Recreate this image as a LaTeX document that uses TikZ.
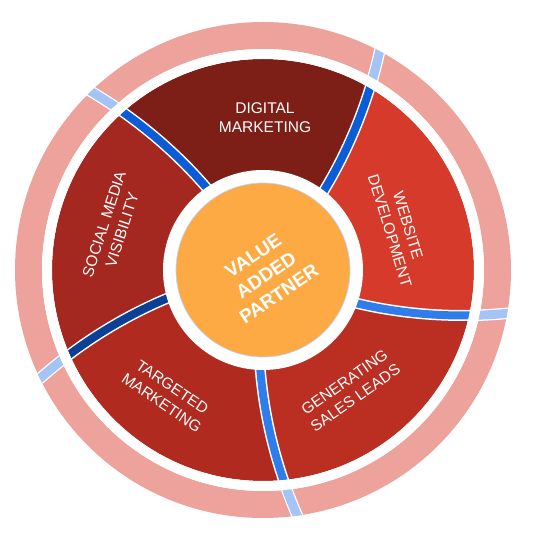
\documentclass[tikz,border=0pt]{standalone}
\usepackage{fontspec}
\setmainfont{Liberation Sans}
\definecolor{cDM}{HTML}{7E1F17}
\definecolor{cWD}{HTML}{D63A2B}
\definecolor{cGSL}{HTML}{BB2E22}
\definecolor{cTM}{HTML}{B02A20}
\definecolor{cSM}{HTML}{A4281F}
\definecolor{cPink}{HTML}{EDA39C}
\definecolor{cLB}{HTML}{A4C4F6}
\definecolor{cBlueA}{HTML}{0B5DD7}
\definecolor{cBlueB}{HTML}{0A4096}
\definecolor{cBlueC}{HTML}{2E7DEB}
\definecolor{cOrange}{HTML}{FDA944}
\definecolor{cRim}{HTML}{C2D5F5}
\begin{document}
\begin{tikzpicture}[x=1pt,y=1pt,
  lab/.style={text=white, font=\fontsize{15.5}{19}\selectfont, align=center, inner sep=0pt},
  hub/.style={text=white, font=\fontsize{19}{23}\selectfont\bfseries, align=center, inner sep=0pt},
  sepborder/.style={white, line width=11pt},
  sepband/.style={line width=8pt},
  ringborder/.style={white, line width=11.5pt},
  ringband/.style={cLB, line width=9pt}]
\useasboundingbox (-263,-270) rectangle (286,270);
% segments and separators
\begin{scope}
  \clip (0,0) circle (211pt);
  \foreach \a/\b/\c in {340.4/412.4/cWD, 52.4/124.4/cDM, 124.4/196.4/cSM, 196.4/268.4/cTM, 268.4/340.4/cGSL}{
    \fill[\c] (0,0) -- plot[domain=90:215,samples=25,variable=\r] ({\a+0.064*(\r-99)}:{\r pt})
      -- ({(\a+\b)/2+7}:320pt)
      -- plot[domain=215:90,samples=25,variable=\r] ({\b+0.064*(\r-99)}:{\r pt}) -- cycle;
  }
  \foreach \a/\c in {52.4/cBlueA, 124.4/cBlueA, 196.4/cBlueB, 268.4/cBlueC, 340.4/cBlueC}{
    \draw[sepborder] plot[domain=85:230,samples=30,variable=\r] ({\a+0.064*(\r-99)}:{\r pt});
    \draw[sepband,\c] plot[domain=85:230,samples=30,variable=\r] ({\a+0.064*(\r-99)}:{\r pt});
  }
\end{scope}
% hub
\fill[white] (0,0) circle (100pt);
\fill[cOrange] (0,0) circle (87pt);
\draw[cRim, line width=0.7pt] (0,0) circle (87pt);
% outer ring
\fill[cPink, even odd rule] (0,0) circle (248pt) (0,0) circle (221pt);
\begin{scope}
  \clip (0,0) circle (248pt);
  \foreach \a in {52.4,124.4,196.4,268.4,340.4}{
    \draw[ringborder] plot[domain=212:262,samples=15,variable=\r] ({\a+0.064*(\r-99)}:{\r pt});
    \draw[ringband] plot[domain=212:262,samples=15,variable=\r] ({\a+0.064*(\r-99)}:{\r pt});
  }
\end{scope}
\fill[white, even odd rule] (0,0) circle (221pt) (0,0) circle (211pt);
% labels
\node[lab] (dm) at (2,152) {DIGITAL\\MARKETING};
\node[lab, rotate=-73] (wd) at (136,42) {WEBSITE\\DEVELOPMENT};
\node[lab, rotate=35] (gsl) at (87,-120) {GENERATING\\SALES LEADS};
\node[lab, rotate=-34] (tm) at (-96,-125) {TARGETED\\MARKETING};
\node[lab, rotate=72] (sm) at (-150,43) {SOCIAL MEDIA\\VISIBILITY};
\node[hub, rotate=34] (vap) at (3,-5) {VALUE\\ADDED\\PARTNER};
\end{tikzpicture}
\end{document}
